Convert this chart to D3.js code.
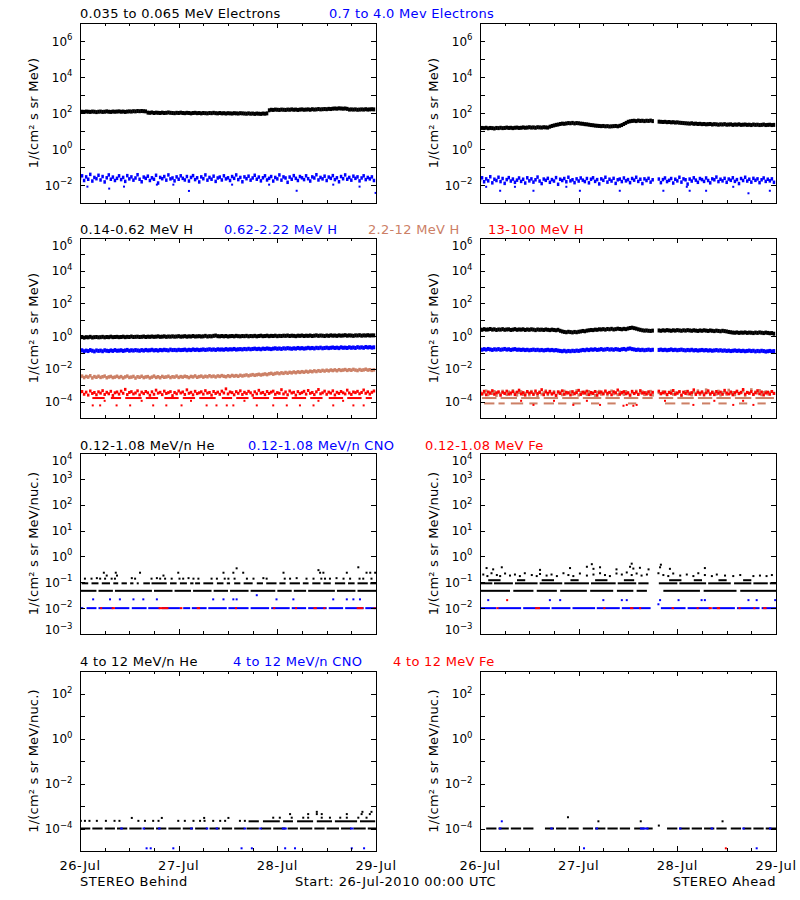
<!DOCTYPE html>
<html><head><meta charset="utf-8">
<script src="https://cdn.jsdelivr.net/npm/d3@7"></script>
<style>body{margin:0;background:#fff} text{font-family:"DejaVu Sans",sans-serif}</style>
</head><body><svg id="c" width="800" height="900"></svg>
<script>
// ---------------- DATA (log10 of flux; half-hour samples from 26-Jul 00:00 UTC) ----------------
const halfHours = d3.range(144).map(i => i / 2);

// Row 1: electrons
const B_e1 = [2.05,2.07,2.06,2.08,2.07,2.06,2.08,2.07,2.05,2.07,
2.08,2.06,2.07,2.09,2.07,2.06,2.08,2.07,2.08,2.09,
2.07,2.08,2.06,2.08,2.09,2.08,2.10,2.09,2.11,2.10,
2.11,2.10,2.09,2.02,2.01,2.03,2.00,2.02,2.01,2.00,
2.02,2.00,2.01,2.03,2.01,2.00,1.99,2.01,2.00,2.02,
2.00,1.99,2.01,2.00,1.98,2.00,2.01,1.99,2.00,1.98,
2.00,1.99,1.98,2.00,1.99,2.01,1.99,1.98,2.00,1.98,
1.99,1.97,1.99,1.98,1.97,1.99,1.98,1.97,1.99,1.98,
1.97,1.96,1.98,1.96,1.97,1.95,1.97,1.96,1.95,1.97,
1.96,1.98,2.15,2.18,2.17,2.19,2.18,2.17,2.19,2.18,
2.17,2.19,2.18,2.20,2.18,2.19,2.17,2.19,2.20,2.18,
2.19,2.20,2.18,2.21,2.19,2.20,2.22,2.20,2.21,2.22,
2.21,2.23,2.22,2.24,2.25,2.24,2.26,2.25,2.24,2.25,
2.23,2.19,2.20,2.19,2.20,2.18,2.19,2.20,2.19,2.21,
2.19,2.20,2.21,2.20];
const B_e2 = [-1.61,-1.49,-1.75,-1.55,-1.68,-1.41,-1.78,-1.58,-1.65,-1.46,
-1.72,-1.53,-1.83,-1.60,-1.44,-1.68,-1.56,-1.75,-1.63,-1.49,
-1.70,-1.58,-1.80,-1.48,-1.66,-1.55,-1.73,-1.61,-1.43,-1.68,
-1.82,-1.56,-1.63,-1.51,-1.75,-1.60,-1.68,-1.46,-1.89,-1.58,
-1.65,-1.53,-1.73,-1.44,-1.66,-1.61,-1.77,-1.55,-1.68,-1.49,
-1.63,-1.72,-1.53,-1.78,-1.58,-1.48,-1.70,-1.60,-1.83,-1.55,
-1.65,-1.44,-1.73,-1.58,-1.68,-1.51,-1.80,-1.61,-1.56,-1.72,
-1.49,-1.66,-1.60,-1.75,-1.53,-1.63,-1.44,-1.70,-1.58,-1.82,
-1.55,-1.65,-1.51,-1.73,-1.61,-1.46,-1.68,-1.56,-1.77,-1.60,
-1.49,-1.72,-1.63,-1.53,-1.78,-1.58,-1.66,-1.44,-1.73,-1.55,
-1.61,-1.85,-1.56,-1.68,-1.48,-1.63,-1.75,-1.53,-1.60,-1.70,
-1.49,-1.65,-1.78,-1.55,-1.61,-1.43,-1.72,-1.58,-1.66,-1.51,
-1.75,-1.56,-1.63,-1.48,-1.70,-1.60,-1.82,-1.53,-1.65,-1.44,
-1.68,-1.58,-1.73,-1.51,-1.63,-1.55,-1.77,-1.61,-1.49,-1.70,
-1.58,-1.66,-1.55,-1.75];
const B_e2_out = [[1.8,-2.09],[7.1,-2.2],[10.7,-2.09],[18.7,-1.98],[22.7,-1.98],[26.5,-2.33],[37,-1.98],[46,-1.98],[52.7,-2.32],[61.6,-1.98],[68,-2.09],[71.9,-2.44]];

const A_e1 = [1.15,1.17,1.16,1.18,1.15,1.17,1.16,1.14,1.17,1.16,
1.18,1.16,1.17,1.19,1.17,1.18,1.16,1.18,1.19,1.17,
1.18,1.20,1.18,1.19,1.21,1.19,1.20,1.18,1.21,1.20,
1.19,1.21,1.20,1.19,1.24,1.28,1.31,1.34,1.36,1.39,
1.41,1.40,1.42,1.44,1.43,1.45,1.42,1.44,1.43,1.41,
1.40,1.38,1.37,1.35,1.33,1.32,1.30,1.29,1.28,1.27,
1.28,1.26,1.27,1.25,1.26,1.27,1.28,1.26,1.29,1.33,
1.39,1.45,1.51,1.54,1.56,1.57,1.55,1.58,1.56,1.57,
1.55,1.57,1.56,1.58,1.55,null,null,1.52,1.51,1.50,
1.51,1.49,1.50,1.48,1.49,1.47,1.48,1.46,1.45,1.44,
1.43,1.42,1.41,1.43,1.40,1.41,1.39,1.40,1.38,1.39,
1.37,1.38,1.39,1.36,1.38,1.37,1.35,1.37,1.36,1.38,
1.35,1.36,1.37,1.34,1.36,1.35,1.37,1.34,1.35,1.36,
1.34,1.35,1.33,1.36,1.34,1.35,1.33,1.34,1.36,1.33,
1.34,1.35,1.33,1.34];
const A_e2 = [-1.71,-1.60,-1.82,-1.66,-1.77,-1.54,-1.88,-1.68,-1.75,-1.57,
-1.81,-1.64,-1.91,-1.70,-1.59,-1.78,-1.67,-1.85,-1.73,-1.61,
-1.80,-1.68,-1.89,-1.60,-1.77,-1.66,-1.84,-1.71,-1.56,-1.78,
-1.92,-1.67,-1.74,-1.63,-1.85,-1.70,-1.78,-1.59,-1.96,-1.68,
-1.75,-1.64,-1.82,-1.57,-1.77,-1.71,-1.87,-1.66,-1.78,-1.61,
-1.73,-1.81,-1.64,-1.88,-1.68,-1.60,-1.80,-1.70,-1.94,-1.66,
-1.74,-1.57,-1.84,-1.68,-1.78,-1.63,-1.91,-1.71,-1.67,-1.81,
-1.61,-1.77,-1.70,-1.87,-1.64,-1.73,-1.57,-1.80,-1.68,-1.92,
-1.66,-1.75,-1.63,-1.84,-1.71,null,null,-1.67,-1.87,-1.70,
-1.61,-1.81,-1.74,-1.64,-1.89,-1.68,-1.77,-1.57,-1.84,-1.66,
-1.71,-1.95,-1.67,-1.78,-1.60,-1.73,-1.85,-1.64,-1.70,-1.80,
-1.61,-1.75,-1.88,-1.66,-1.71,-1.56,-1.81,-1.68,-1.77,-1.63,
-1.85,-1.67,-1.74,-1.60,-1.80,-1.70,-1.92,-1.64,-1.75,-1.57,
-1.78,-1.68,-1.84,-1.63,-1.74,-1.66,-1.87,-1.71,-1.61,-1.80,
-1.68,-1.77,-1.66,-1.85];
const A_e2_out = [[1.5,-2.1],[4.9,-2.32],[8.5,-2.1],[13,-2.32],[21,-2.1],[24.3,-2.32],[34,-2.32],[44.6,-2.32],[50.3,-2.1],[51,-2.32],[55,-2.32],[61.6,-2.1],[65.3,-2.46],[70.5,-2.32]];

// Row 2: protons
const B_H1 = [-0.08,-0.05,-0.09,-0.06,-0.07,-0.04,-0.08,-0.06,-0.05,-0.07,
-0.06,-0.04,-0.07,-0.05,-0.06,-0.03,-0.06,-0.05,-0.04,-0.06,
-0.05,-0.03,-0.06,-0.04,-0.05,-0.02,-0.05,-0.04,-0.03,-0.05,
-0.04,-0.02,-0.05,-0.03,-0.04,-0.02,-0.04,-0.03,-0.01,-0.04,
-0.03,-0.01,-0.04,-0.02,-0.03,-0.01,-0.03,-0.02,0.00,-0.03,
-0.02,0.00,-0.03,-0.01,-0.02,0.01,-0.02,-0.01,0.00,-0.02,
-0.01,0.02,-0.02,0.00,-0.01,0.02,0.04,0.00,-0.01,0.01,
-0.01,0.01,-0.02,0.00,0.01,-0.01,0.02,0.00,-0.01,0.01,
0.00,0.02,-0.01,0.01,0.00,0.02,-0.01,0.01,0.03,0.00,
0.01,0.03,0.00,0.02,0.01,0.03,0.00,0.02,0.01,0.03,
0.02,0.04,0.01,0.03,0.02,0.00,0.03,0.02,0.04,0.01,
0.03,0.02,0.04,0.01,0.03,0.05,0.02,0.04,0.03,0.01,
0.04,0.02,0.05,0.03,0.04,0.02,0.05,0.03,0.04,0.06,
0.03,0.05,0.04,0.02,0.05,0.04,0.06,0.03,0.05,0.04,
0.06,0.04,0.05,0.05];
const B_H2 = [-0.90,-0.86,-0.92,-0.88,-0.91,-0.85,-0.89,-0.93,-0.87,-0.90,
-0.88,-0.92,-0.86,-0.89,-0.91,-0.87,-0.90,-0.85,-0.89,-0.88,
-0.86,-0.90,-0.87,-0.84,-0.89,-0.86,-0.88,-0.85,-0.87,-0.89,
-0.85,-0.88,-0.84,-0.87,-0.86,-0.83,-0.87,-0.85,-0.88,-0.84,
-0.86,-0.83,-0.85,-0.87,-0.82,-0.85,-0.84,-0.86,-0.83,-0.85,
-0.84,-0.82,-0.86,-0.83,-0.85,-0.81,-0.84,-0.82,-0.85,-0.83,
-0.81,-0.84,-0.82,-0.80,-0.83,-0.81,-0.84,-0.80,-0.82,-0.81,
-0.83,-0.79,-0.82,-0.80,-0.81,-0.78,-0.82,-0.80,-0.79,-0.81,
-0.78,-0.80,-0.77,-0.80,-0.78,-0.76,-0.79,-0.77,-0.80,-0.76,
-0.78,-0.75,-0.77,-0.79,-0.76,-0.74,-0.77,-0.75,-0.78,-0.74,
-0.76,-0.73,-0.75,-0.77,-0.74,-0.76,-0.72,-0.75,-0.73,-0.76,
-0.74,-0.71,-0.74,-0.72,-0.75,-0.71,-0.73,-0.70,-0.74,-0.72,
-0.70,-0.73,-0.71,-0.69,-0.72,-0.70,-0.73,-0.68,-0.71,-0.70,
-0.72,-0.68,-0.71,-0.69,-0.72,-0.67,-0.70,-0.68,-0.71,-0.66,
-0.69,-0.67,-0.70,-0.68];
const B_H3 = [-2.48,-2.44,-2.53,-2.46,-2.50,-2.42,-2.55,-2.47,-2.51,-2.45,
-2.52,-2.48,-2.44,-2.54,-2.49,-2.46,-2.53,-2.50,-2.45,-2.52,
-2.47,-2.55,-2.49,-2.44,-2.52,-2.50,-2.46,-2.56,-2.48,-2.51,
-2.45,-2.53,-2.49,-2.47,-2.55,-2.50,-2.44,-2.52,-2.48,-2.54,
-2.46,-2.51,-2.49,-2.45,-2.53,-2.48,-2.50,-2.44,-2.52,-2.47,
-2.50,-2.45,-2.48,-2.53,-2.46,-2.49,-2.43,-2.51,-2.47,-2.44,
-2.50,-2.45,-2.48,-2.42,-2.47,-2.44,-2.49,-2.43,-2.46,-2.41,
-2.45,-2.48,-2.42,-2.46,-2.40,-2.44,-2.41,-2.45,-2.39,-2.43,
-2.40,-2.37,-2.42,-2.38,-2.35,-2.39,-2.36,-2.33,-2.37,-2.34,
-2.31,-2.35,-2.30,-2.27,-2.32,-2.28,-2.25,-2.29,-2.24,-2.27,
-2.22,-2.26,-2.21,-2.24,-2.19,-2.23,-2.18,-2.21,-2.17,-2.20,
-2.15,-2.19,-2.14,-2.17,-2.12,-2.16,-2.11,-2.14,-2.09,-2.13,
-2.08,-2.12,-2.07,-2.10,-2.06,-2.11,-2.05,-2.09,-2.07,-2.04,
-2.09,-2.05,-2.08,-2.03,-2.07,-2.10,-2.04,-2.08,-2.06,-2.02,
-2.07,-2.05,-2.09,-2.06];
const B_H4 = [-3.45,-3.38,-3.55,-3.42,-3.60,-3.35,-3.50,-3.44,-3.58,-3.40,
-3.48,-3.33,-3.56,-3.43,-3.52,-3.37,-3.62,-3.46,-3.41,-3.54,
-3.36,-3.49,-3.25,-3.57,-3.44,-3.39,-3.53,-3.47,-3.34,-3.59,
-3.42,-3.51,-3.38,-3.46,-3.61,-3.40,-3.55,-3.30,-3.48,-3.43,
-3.57,-3.36,-3.50,-3.45,-3.39,-3.63,-3.44,-3.52,-3.35,-3.47,
-3.41,-3.56,-3.28,-3.49,-3.43,-3.58,-3.37,-3.51,-3.46,-3.40,
-3.54,-3.33,-3.48,-3.44,-3.60,-3.38,-3.50,-3.42,-3.55,-3.36,
-3.47,-3.22,-3.53,-3.41,-3.45,-3.58,-3.39,-3.49,-3.34,-3.56,
-3.43,-3.51,-3.37,-3.46,-3.61,-3.40,-3.52,-3.31,-3.48,-3.44,
-3.57,-3.38,-3.50,-3.42,-3.36,-3.55,-3.45,-3.49,-3.27,-3.53,
-3.41,-3.58,-3.35,-3.47,-3.43,-3.60,-3.39,-3.51,-3.45,-3.37,
-3.54,-3.32,-3.49,-3.44,-3.57,-3.40,-3.26,-3.52,-3.46,-3.36,
-3.55,-3.42,-3.48,-3.34,-3.59,-3.43,-3.50,-3.38,-3.46,-3.53,
-3.30,-3.47,-3.56,-3.41,-3.45,-3.37,-3.52,-3.44,-3.29,-3.49,
-3.40,-3.54,-3.43,-3.35];
const B_H4_runs = [[3,6],[7.5,10],[11,15],[16,19],[20.5,24],[25,28],[29,33],[34.5,37],[38,41],[42,46],[47,50.5],[51.5,55],[56,59],[60.5,64],[65,68.5],[69.5,71]];
const B_H4_low = [[3.1,-4.23],[4.9,-4.23],[6,-3.95],[8.9,-4.23],[12.2,-4.23],[15,-3.95],[17.8,-4.23],[21,-4.23],[24.7,-4.23],[27,-3.95],[30.8,-4.23],[33.2,-4.23],[35.7,-4.23],[37.3,-4.23],[40,-3.95],[43,-4.23],[47,-4.23],[50.3,-4.23],[53.5,-4.23],[56.8,-4.23],[58,-3.95],[61.6,-4.23],[64,-3.95],[66.5,-4.23],[69,-4.23]];

const A_H1 = [0.42,0.39,0.43,0.40,0.41,0.44,0.40,0.42,0.38,0.41,
0.40,0.43,0.39,0.41,0.42,0.38,0.40,0.43,0.39,0.41,
0.40,0.42,0.38,0.41,0.39,0.42,0.40,0.37,0.41,0.39,
0.40,0.38,0.41,0.39,0.37,0.40,0.38,0.36,0.39,0.33,
0.29,0.26,0.24,0.27,0.25,0.23,0.26,0.24,0.27,0.29,
0.32,0.30,0.34,0.36,0.38,0.37,0.40,0.39,0.42,0.41,
0.43,0.40,0.44,0.42,0.45,0.41,0.43,0.46,0.44,0.42,
0.45,0.43,0.47,0.50,0.52,0.49,0.46,0.42,0.39,0.36,
0.34,0.35,0.33,0.32,0.34,null,null,0.35,0.33,0.36,
0.34,0.37,0.35,0.33,0.36,0.34,0.37,0.35,0.33,0.36,
0.34,0.37,0.35,0.33,0.36,0.34,0.32,0.35,0.33,0.36,
0.34,0.32,0.35,0.33,0.31,0.34,0.32,0.30,0.33,0.31,
0.29,0.26,0.24,0.22,0.21,0.23,0.20,0.22,0.21,0.23,
0.20,0.22,0.21,0.19,0.22,0.20,0.23,0.21,0.19,0.22,
0.20,0.18,0.19,0.15];
const A_H2 = [-0.80,-0.83,-0.79,-0.82,-0.78,-0.81,-0.84,-0.80,-0.82,-0.79,
-0.83,-0.81,-0.78,-0.82,-0.80,-0.84,-0.81,-0.79,-0.83,-0.82,
-0.84,-0.82,-0.85,-0.83,-0.86,-0.84,-0.82,-0.85,-0.83,-0.86,
-0.84,-0.87,-0.85,-0.83,-0.86,-0.84,-0.87,-0.85,-0.88,-0.90,
-0.92,-0.89,-0.93,-0.90,-0.92,-0.89,-0.91,-0.88,-0.90,-0.87,
-0.84,-0.86,-0.82,-0.85,-0.81,-0.83,-0.80,-0.84,-0.82,-0.79,
-0.83,-0.81,-0.78,-0.82,-0.80,-0.83,-0.79,-0.81,-0.84,-0.80,
-0.78,-0.82,-0.77,-0.75,-0.79,-0.81,-0.84,-0.82,-0.85,-0.83,
-0.86,-0.84,-0.82,-0.85,-0.83,null,null,-0.84,-0.82,-0.85,
-0.83,-0.86,-0.84,-0.81,-0.85,-0.83,-0.86,-0.84,-0.82,-0.85,
-0.87,-0.84,-0.86,-0.83,-0.87,-0.85,-0.88,-0.86,-0.84,-0.87,
-0.85,-0.88,-0.86,-0.89,-0.87,-0.85,-0.88,-0.86,-0.89,-0.87,
-0.90,-0.88,-0.91,-0.89,-0.87,-0.90,-0.88,-0.91,-0.89,-0.92,
-0.90,-0.88,-0.91,-0.89,-0.93,-0.90,-0.92,-0.89,-0.91,-0.94,
-0.92,-0.90,-0.93,-0.91];
const A_H3 = [-3.40,-3.55,-3.46,-3.35,-3.58,-3.43,-3.50,-3.38,-3.62,-3.45,
-3.52,-3.36,-3.48,-3.57,-3.41,-3.54,-3.33,-3.47,-3.60,-3.44,
-3.39,-3.56,-3.49,-3.42,-3.59,-3.37,-3.51,-3.45,-3.63,-3.40,
-3.54,-3.46,-3.34,-3.57,-3.43,-3.50,-3.39,-3.61,-3.47,-3.42,
-3.58,-3.36,-3.52,-3.45,-3.40,-3.55,-3.48,-3.33,-3.60,-3.44,
-3.50,-3.41,-3.57,-3.38,-3.53,-3.46,-3.62,-3.43,-3.37,-3.55,
-3.48,-3.40,-3.59,-3.45,-3.35,-3.52,-3.44,-3.58,-3.41,-3.49,
-3.56,-3.38,-3.47,-3.61,-3.43,-3.51,-3.36,-3.54,-3.46,-3.40,
-3.57,-3.44,-3.50,-3.37,-3.60,null,null,-3.45,-3.53,-3.39,
-3.48,-3.58,-3.42,-3.35,-3.55,-3.46,-3.50,-3.40,-3.62,-3.44,
-3.38,-3.53,-3.47,-3.59,-3.41,-3.49,-3.34,-3.56,-3.45,-3.51,
-3.28,-3.43,-3.57,-3.40,-3.48,-3.54,-3.36,-3.60,-3.45,-3.42,
-3.55,-3.30,-3.49,-3.44,-3.58,-3.39,-3.52,-3.46,-3.35,-3.61,
-3.43,-3.50,-3.27,-3.55,-3.41,-3.47,-3.32,-3.58,-3.44,-3.40,
-3.53,-3.46,-3.38,-3.49];
const A_H3_runsA = [[0.5,4],[5,9],[10,14.5],[15.5,19],[20,24],[25,29.5],[30.5,34],[35,38.5],[39.5,42],[43.5,47],[48,52],[53,56.5],[57.5,61],[62,66],[67,71.5]];
const A_H3_runsB = [[1,3.5],[4.5,6],[7.5,10.5],[12,14],[15.5,18],[19,21],[22.5,24.5],[27,29],[31,33],[36,38],[45,47.5],[49,51],[54,56],[58,60],[63,65],[67.5,69.5]];
const A_H4 = [-3.44,-3.52,-3.37,-3.58,-3.41,-3.49,-3.33,-3.55,-3.46,-3.40,
-3.61,-3.43,-3.50,-3.36,-3.54,-3.47,-3.39,-3.57,-3.42,-3.30,
-3.53,-3.45,-3.60,-3.38,-3.48,-3.43,-3.56,-3.35,-3.51,-3.44,
-3.27,-3.58,-3.41,-3.49,-3.37,-3.54,-3.46,-3.62,-3.40,-3.50,
-3.34,-3.55,-3.43,-3.47,-3.59,-3.39,-3.52,-3.45,-3.31,-3.56,
-3.42,-3.48,-3.36,-3.57,-3.44,-3.50,-3.38,-3.61,-3.46,-3.41,
-3.53,-3.35,-3.49,-3.43,-3.58,-3.40,-3.47,-3.29,-3.55,-3.44,
-3.39,-3.52,-3.46,-3.60,-3.37,-3.50,-3.42,-3.56,-3.33,-3.48,
-3.45,-3.54,-3.40,-3.58,-3.43,null,null,-3.36,-3.51,-3.46,
-3.41,-3.57,-3.44,-3.49,-3.32,-3.55,-3.47,-3.39,-3.60,-3.42,
-3.50,-3.37,-3.53,-3.45,-3.28,-3.56,-3.43,-3.48,-3.40,-3.59,
-3.46,-3.34,-3.52,-3.44,-3.57,-3.38,-3.49,-3.42,-3.55,-3.31,
-3.47,-3.53,-3.41,-3.58,-3.45,-3.36,-3.50,-3.43,-3.26,-3.54,
-3.44,-3.48,-3.39,-3.56,-3.46,-3.33,-3.52,-3.41,-3.59,-3.47,
-3.42,-3.55,-3.38,-3.50];
const A_H4_low = [[13,-4.2],[22.7,-4.2],[29.2,-4.2],[34.9,-4.25],[35.7,-4.2],[37.3,-4.25],[38.1,-4.2],[51.9,-4.2],[61.6,-4.2],[66.5,-4.2],[10,-3.95],[18,-3.95],[26,-3.95],[45,-3.95],[57,-3.95],[64,-3.95]];

// Row 3: low-energy ions (runs of constant level [start h, end h], and single points [h, log10])
const B_He_runs1 = [[0,4],[4.5,8],[8.5,17.5],[18,22.5],[23,27],[27.5,32],[32.5,36],[36.5,41],[41.5,47.5],[48,51.5],[52,55],[55.5,62],[62.5,67],[67.5,72]];
const B_He_runs2 = [[0.4,2],[2.8,4.5],[5.3,7.3],[8.1,9.3],[10.1,11.4],[12.2,13],[13.8,14.2],[15.4,17],[17.4,21.1],[21.9,23.5],[24.3,26],[26.8,27.6],[28,29.2],[30,32.4],[33.3,34.9],[35.7,36.5],[37.5,39],[39.8,42],[43,44.5],[45.3,47.8],[48.5,50],[51,53.5],[54.2,55.6],[56.5,58.5],[59.2,61],[62,64.5],[65.2,66.8],[67.5,70],[70.6,72]];
const B_He_pts = [[1.2,-0.86],[2.8,-0.86],[4.1,-0.84],[4.9,-0.86],[5.8,-0.63],[6.1,-0.86],[6.5,-0.74],[7.7,-0.86],[8.5,-0.86],[9.0,-0.74],[8.7,-0.63],[12.6,-0.84],[13.4,-0.86],[14.6,-0.63],[17.4,-0.86],[18.7,-0.84],[19.5,-0.86],[20.3,-0.74],[20.7,-0.86],[22.3,-0.86],[23.9,-0.63],[24.2,-0.86],[25.1,-0.86],[26.4,-0.84],[27.6,-0.86],[28.8,-0.86],[32.0,-0.86],[33.3,-0.86],[34.9,-0.63],[35.2,-0.86],[36.1,-0.86],[37.3,-0.63],[38.1,-0.46],[37.6,-0.86],[39.7,-0.63],[40.6,-0.86],[42.2,-0.86],[44.6,-0.84],[45.4,-0.86],[49.5,-0.63],[49.8,-0.86],[51.1,-0.86],[52.7,-0.84],[55.1,-0.86],[56.8,-0.86],[58.0,-0.53],[58.4,-0.63],[58.7,-0.86],[59.2,-0.63],[59.6,-0.86],[60.8,-0.86],[62.4,-0.84],[64.1,-0.86],[64.9,-0.63],[65.7,-0.86],[67.7,-0.42],[68.0,-0.86],[68.9,-0.86],[69.7,-0.63],[70.6,-0.63],[70.9,-0.86],[71.8,-0.63]];
const B_CNO_runs = [[0,0.8],[1.6,4],[4.5,8.1],[8.5,12],[12.6,16.2],[16.6,19.5],[19.9,24.3],[25.1,26.8],[27.2,30.8],[31.2,35.7],[36.1,41],[41.5,46],[46.5,51],[51.5,55],[55.5,60],[60.5,64],[64.5,69],[69.4,72]];
const B_CNO_pts = [[3.2,-1.66],[7.3,-1.66],[9.7,-1.66],[13,-1.66],[15.4,-1.66],[18.7,-1.66],[32.4,-1.66],[34.9,-1.66],[37.3,-1.66],[38.1,-1.66],[43,-1.5],[47.8,-1.66],[51.9,-1.66],[61.6,-1.66],[64.9,-1.66],[66.5,-1.66],[68.1,-1.66]];
const B_Fe_runs = [[4.9,5.3],[7.7,8.5],[19.1,21.5],[24.3,24.9],[28.4,29.2],[37.7,38.1],[47,47.4],[52.3,52.7],[56.8,57.6],[59.2,59.6],[67.3,68.9],[71.4,71.7]];

const A_He_runs1 = [[0,7.3],[8.1,13],[13.8,18.7],[19.5,26],[26.8,32.4],[33.3,37.3],[38.1,40.6],[44.6,53.5],[54.4,62.4],[63.3,72]];
const A_He_runs2 = [[0,3],[3.4,8],[8.5,14],[14.5,20],[20.5,26.5],[27,33],[33.5,38],[38.5,41],[43.5,48],[48.5,55],[55.5,61],[61.8,66],[66.5,70],[70.5,72]];
const A_He_runs3 = [[2,5],[9,11],[15,18],[22,24],[28,31],[35,37.5],[46,49],[52,54],[58,60],[64,66]];
const A_He_pts = [[0.8,-0.70],[1.8,-0.76],[2.8,-0.65],[4.1,-0.72],[4.9,-0.76],[6.1,-0.66],[7.3,-0.74],[8.5,-0.70],[9.7,-0.76],[10.9,-0.65],[12.6,-0.72],[13.8,-0.76],[14.6,-0.68],[16.2,-0.74],[17.4,-0.70],[18.7,-0.76],[20.3,-0.65],[21.5,-0.72],[22.7,-0.76],[24.3,-0.66],[26.0,-0.74],[27.6,-0.70],[29.2,-0.65],[30.4,-0.72],[31.6,-0.76],[33.2,-0.66],[34.5,-0.70],[35.7,-0.62],[36.9,-0.72],[38.1,-0.66],[39.3,-0.74],[40.6,-0.70],[43.4,-0.65],[44.6,-0.72],[45.8,-0.76],[47.0,-0.66],[48.7,-0.74],[50.3,-0.70],[51.9,-0.76],[53.1,-0.65],[54.7,-0.72],[56.4,-0.76],[57.6,-0.70],[59.6,-0.74],[61.6,-0.76],[63.3,-0.72],[66.5,-0.76],[68.1,-0.74],[69.7,-0.76],[71.0,-0.72],[1.6,-0.45],[3.2,-0.50],[5.3,-0.42],[14.6,-0.52],[21.9,-0.45],[26.0,-0.40],[27.6,-0.48],[29.2,-0.42],[33.2,-0.50],[36.5,-0.40],[37.3,-0.47],[38.9,-0.44],[41.0,-0.50],[43.8,-0.42],[46.2,-0.48],[54.7,-0.45],[27.2,-0.30],[36.9,-0.28],[44.0,-0.32]];
const A_CNO_runs = [[0,4],[4.4,10],[10.5,17],[17.4,22],[22.5,28],[28.4,34],[34.5,41.5],[44,50],[50.5,56],[56.5,62],[62.5,68],[68.5,72]];
const A_CNO_pts = [[2,-1.69],[17,-1.69],[19.5,-1.69],[30,-1.69],[34.5,-1.69],[35.7,-1.69],[43.4,-1.85],[43.8,-1.69],[48.3,-1.69],[53.9,-1.69],[54.7,-1.69],[65.3,-1.69],[67.3,-1.69],[71.8,-1.69]];
const A_Fe_runs = [[4.0,4.4],[13.4,14.6],[30,30.4],[36.5,37.3],[38.7,39.1],[46.6,47.2],[52.7,53.1],[55.6,56.4],[57.6,58.4],[62.9,63.3],[66.5,66.9],[68.9,69.7]];
const A_Fe_pts = [[6.6,-1.69]];

// Row 4: high-energy ions
const B_He4_runs1 = [[0,2.5],[3,5.5],[6,8.5],[9,11.5],[12,15],[15.5,18],[18.5,21],[21.5,24.5],[25,27.5],[28,31],[31.5,34],[34.5,37],[37.5,40],[40.5,43.5],[44,46.5],[47,50],[50.5,53],[53.5,56.5],[57,59.5],[60,63],[63.5,66],[66.5,69.5],[70,72]];
const B_He4_runs2 = [[41,43.5],[44.5,48.6],[49.4,51.8],[52.8,56.7],[57.6,61.3],[62,67.4],[68.1,71.8]];
const B_He4_pts = [[0.2,-3.66],[1.2,-3.66],[2.3,-3.66],[4.1,-3.66],[6.3,-3.66],[8.4,-3.66],[9.6,-3.66],[14.2,-3.66],[15.8,-3.66],[17.8,-3.66],[19.1,-3.66],[23.9,-3.66],[25.5,-3.66],[27.6,-3.66],[29.2,-3.66],[30.3,-3.66],[32.4,-3.66],[34.1,-3.66],[35.3,-3.66],[38.9,-3.66],[40.1,-3.66],[12.6,-3.53],[19.9,-3.53],[30.2,-3.53],[36.1,-3.53],[47,-3.52],[48.6,-3.52],[51.5,-3.52],[54.3,-3.52],[55.5,-3.52],[58.8,-3.52],[60.8,-3.52],[63.3,-3.52],[64.9,-3.52],[67.7,-3.52],[69.7,-3.52],[51.1,-3.36],[55.5,-3.36],[57.6,-3.36],[58.8,-3.36],[64.9,-3.36],[68.5,-3.36],[70.5,-3.36],[57.6,-3.26],[68.7,-3.26],[70.9,-3.26]];
const B_CNO4_runs = [[9.8,10.4],[15.2,15.8],[19,19.6],[26.8,27.4],[30.6,31.2],[33,33.6],[39.8,40.4],[43.6,44.2],[49.1,50.3],[65.7,66.5]];
const B_CNO4_pts = [[16.2,-4.88],[17.2,-4.88],[22.7,-4.88],[39.3,-4.88],[41.8,-4.88],[49.9,-4.88],[52.3,-4.88],[66.1,-4.88],[69.1,-4.88]];

const A_He4_runs1 = [[1.5,4],[4.5,7],[7.5,10],[10.5,13],[15.8,18],[18.5,21],[21.5,24],[25,27.5],[28,30.5],[31,33.5],[34,36.5],[37.5,40],[40.5,42],[45.5,48],[48.5,51],[51.5,54],[54.5,57],[57.5,60],[61,63.5],[64,66],[66.5,69],[69.5,72]];
const A_He4_pts = [[21.4,-3.5],[28.8,-3.68],[39.1,-3.68],[43.5,-3.87],[59,-3.68]];
const A_CNO4_runs = [[4.6,5.2],[17.1,17.7],[28.1,28.7],[38.9,41],[48.4,49],[56.1,56.7],[63.8,64.4],[70.3,70.9]];
const A_CNO4_pts = [[5.3,-3.68],[25.3,-4.88],[67.3,-4.88]];
const A_Fe4_pts = [[59.8,-4.88]];

// Text
const titles = [
  ["0.035 to 0.065 MeV Electrons", "0.7 to 4.0 Mev Electrons"],
  ["0.14-0.62 MeV H", "0.62-2.22 MeV H", "2.2-12 MeV H", "13-100 MeV H"],
  ["0.12-1.08 MeV/n He", "0.12-1.08 MeV/n CNO", "0.12-1.08 MeV Fe"],
  ["4 to 12 MeV/n He", "4 to 12 MeV/n CNO", "4 to 12 MeV Fe"]
];
const yTitles = ["1/(cm² s sr MeV)", "1/(cm² s sr MeV)", "1/(cm² s sr MeV/nuc.)", "1/(cm² s sr MeV/nuc.)"];
const yDomains = [[1e-3, 1e7], [1e-5, 1e6], [1e-3, 1e4], [1e-5, 1e3]];
const yLabelEvery = [2, 2, 1, 2];
const footer = ["STEREO Behind", "Start: 26-Jul-2010 00:00 UTC", "STEREO Ahead"];

// ---------------- LAYOUT / STYLE ----------------
const C = {k: "#000000", b: "#0000ff", br: "#cc8066", r: "#ff0000"};
const titleColors = [[C.k, C.b], [C.k, C.b, C.br, C.r], [C.k, C.b, C.r], [C.k, C.b, C.r]];
const titleX = [[80, 329], [80, 224, 368, 488], [80, 248, 425], [80, 233, 393]];
const titleY = [17.5, 234, 449.5, 666];
const rowsY = [[23, 203], [238, 418], [453, 634], [671, 851]];
const colsX = [[80, 376], [480, 776]];

const T0 = Date.UTC(2010, 6, 26), T1 = Date.UTC(2010, 6, 29);
const tD = h => new Date(T0 + h * 3600e3);

const panels = [
  {row: 0, col: 0, dense: [[B_e1, C.k, 4], [B_e2, C.b, 3.5]], runs: [], pts: [[B_e2_out, C.b]]},
  {row: 0, col: 1, dense: [[A_e1, C.k, 4], [A_e2, C.b, 3.5]], runs: [], pts: [[A_e2_out, C.b]]},
  {row: 1, col: 0, dense: [[B_H1, C.k, 4], [B_H2, C.b, 4], [B_H3, C.br, 3.5], [B_H4, C.r, 3]], runs: [[B_H4_runs, -3.78, C.r]], pts: [[B_H4_low, C.r]]},
  {row: 1, col: 1, dense: [[A_H1, C.k, 4], [A_H2, C.b, 4], [A_H3, C.br, 3], [A_H4, C.r, 3]], runs: [[A_H3_runsA, -3.78, C.br], [A_H3_runsB, -4.11, C.br]], pts: [[A_H4_low, C.r]]},
  {row: 2, col: 0, dense: [], runs: [[B_He_runs1, -1.33, C.k], [B_He_runs2, -1.04, C.k], [B_CNO_runs, -2.0, C.b], [B_Fe_runs, -2.0, C.r]], pts: [[B_He_pts, C.k], [B_CNO_pts, C.b]]},
  {row: 2, col: 1, dense: [], runs: [[A_He_runs1, -1.33, C.k], [A_He_runs2, -1.04, C.k], [A_He_runs3, -0.92, C.k], [A_CNO_runs, -2.0, C.b], [A_Fe_runs, -2.0, C.r]], pts: [[A_He_pts, C.k], [A_CNO_pts, C.b], [A_Fe_pts, C.r]]},
  {row: 3, col: 0, dense: [], runs: [[B_He4_runs1, -4.0, C.k], [B_He4_runs2, -3.68, C.k], [B_CNO4_runs, -4.0, C.b]], pts: [[B_He4_pts, C.k], [B_CNO4_pts, C.b]]},
  {row: 3, col: 1, dense: [], runs: [[A_He4_runs1, -4.0, C.k], [A_CNO4_runs, -4.0, C.b]], pts: [[A_He4_pts, C.k], [A_CNO4_pts, C.b], [A_Fe4_pts, C.r]]}
];

const svg = d3.select("#c");
svg.append("rect").attr("width", 800).attr("height", 900).attr("fill", "#fff");

// titles
titles.forEach((row, ri) => row.forEach((t, i) => {
  svg.append("text").attr("x", titleX[ri][i]).attr("y", titleY[ri])
    .attr("font-size", 13).attr("letter-spacing", 0.3).attr("fill", titleColors[ri][i]).text(t);
}));

panels.forEach((p, pi) => {
  const [x0, x1] = colsX[p.col];
  const [y0, y1] = rowsY[p.row];
  const x = d3.scaleUtc().domain([T0, T1]).range([x0, x1]);
  const y = d3.scaleLog().domain(yDomains[p.row]).range([y1, y0]);
  const g = svg.append("g");
  const cid = "clip" + pi;
  svg.append("clipPath").attr("id", cid).append("rect")
    .attr("x", x0).attr("y", y0).attr("width", x1 - x0).attr("height", y1 - y0);
  const dg = g.append("g").attr("clip-path", `url(#${cid})`);

  // dense half-hourly series
  p.dense.forEach(([vals, col, h]) => {
    dg.append("g").attr("fill", col).selectAll("rect")
      .data(vals.map((v, i) => ({t: halfHours[i], v})).filter(d => d.v != null))
      .join("rect")
      .attr("x", d => x(tD(d.t)) - 1.25).attr("y", d => y(Math.pow(10, d.v)) - h / 2)
      .attr("width", 2.5).attr("height", h);
  });
  // constant-level runs
  p.runs.forEach(([runs, lev, col]) => {
    dg.append("g").attr("fill", col).selectAll("rect").data(runs).join("rect")
      .attr("x", d => x(tD(d[0]))).attr("width", d => Math.max(2, x(tD(d[1])) - x(tD(d[0]))))
      .attr("y", y(Math.pow(10, lev)) - 1).attr("height", 2);
  });
  // single points
  p.pts.forEach(([pts, col]) => {
    dg.append("g").attr("fill", col).selectAll("rect").data(pts).join("rect")
      .attr("x", d => x(tD(d[0])) - 1).attr("y", d => y(Math.pow(10, d[1])) - 1)
      .attr("width", 2).attr("height", 2);
  });

  // frame
  g.append("rect").attr("x", x0 + 0.5).attr("y", y0 + 0.5).attr("width", x1 - x0).attr("height", y1 - y0)
    .attr("fill", "none").attr("stroke", "#000").attr("stroke-width", 1).attr("shape-rendering", "crispEdges");

  // y ticks (decades) on both sides, inward
  const [lo, hi] = yDomains[p.row].map(v => Math.round(Math.log10(v)));
  const exps = d3.range(lo, hi + 1);
  const tv = exps.map(e => Math.pow(10, e));
  const clean = s => s.call(a => a.select(".domain").remove()).attr("shape-rendering", "crispEdges");
  g.append("g").attr("transform", `translate(${x0},0)`).call(d3.axisLeft(y).tickValues(tv).tickSize(-5).tickFormat("")).call(clean);
  g.append("g").attr("transform", `translate(${x1},0)`).call(d3.axisRight(y).tickValues(tv).tickSize(-5).tickFormat("")).call(clean);
  // x ticks
  [[y1, d3.axisBottom], [y0, d3.axisTop]].forEach(([yy, ax]) => {
    g.append("g").attr("transform", `translate(0,${yy})`).call(ax(x).ticks(d3.utcHour.every(6)).tickSize(-3).tickFormat("")).call(clean);
    g.append("g").attr("transform", `translate(0,${yy})`).call(ax(x).ticks(d3.utcDay.every(1)).tickSize(-5).tickFormat("")).call(clean);
  });

  // y tick labels 10^n (kept inside the axis span, as in the original)
  exps.filter(e => e % yLabelEvery[p.row] === 0).forEach(e => {
    const cy = Math.min(Math.max(y(Math.pow(10, e)), y0 + 7), y1 - 4.5);
    const t = g.append("text").attr("x", x0 - 7.5).attr("y", cy + 4.5)
      .attr("text-anchor", "end").attr("font-size", 12).attr("fill", "#000");
    t.append("tspan").text("10");
    t.append("tspan").attr("font-size", 8.5).attr("dy", -5.5).text(String(e).replace("-", "−"));
  });

  // y axis title
  g.append("text").attr("transform", `translate(${x0 - 42},${(y0 + y1) / 2}) rotate(-90)`)
    .attr("text-anchor", "middle").attr("font-size", 13).attr("letter-spacing", 0.2).text(yTitles[p.row]);

  // x labels on the last row
  if (p.row === 3) {
    x.ticks(d3.utcDay.every(1)).forEach(d => {
      g.append("text").attr("x", x(d)).attr("y", 869.5).attr("text-anchor", "middle")
        .attr("font-size", 13).attr("letter-spacing", 0.6).text(d3.utcFormat("%d-%b")(d));
    });
  }
});

svg.append("text").attr("x", 80).attr("y", 885.5).attr("font-size", 13).attr("letter-spacing", 0.5).text(footer[0]);
svg.append("text").attr("x", 295).attr("y", 885.5).attr("font-size", 13).attr("letter-spacing", 0.5).text(footer[1]);
svg.append("text").attr("x", 776).attr("y", 885.5).attr("text-anchor", "end").attr("font-size", 13).attr("letter-spacing", 0.5).text(footer[2]);
</script></body></html>
